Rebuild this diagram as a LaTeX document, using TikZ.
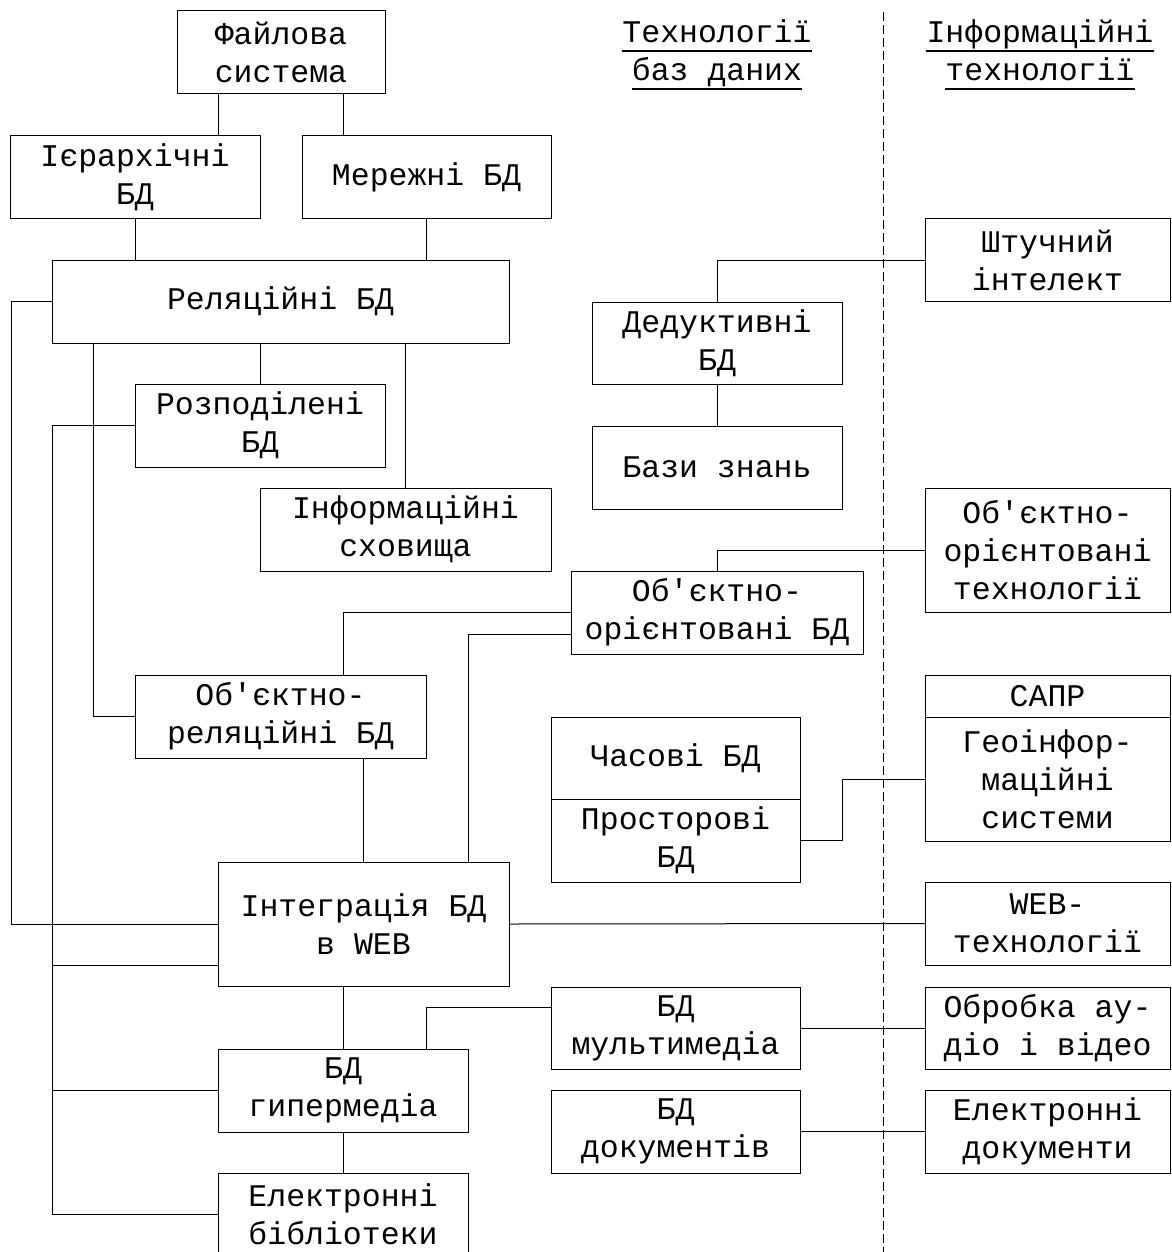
\documentclass[tikz,border=0pt]{standalone}
\usepackage{fontspec}
\setmonofont{Liberation Mono}

\begin{document}
\begin{tikzpicture}[x=1pt,y=-1pt,
  box/.style={draw, line width=1pt, align=center, inner sep=0pt,
    font=\ttfamily\fontsize{31.5}{38}\selectfont},
  sz/.style 2 args={minimum width=#1pt, minimum height=#2pt},
  head/.style={inner sep=0pt, anchor=base, font=\ttfamily\fontsize{31.5}{38}\selectfont},
  uline/.style={line width=1.6pt},
  link/.style={line width=1pt},
  sep/.style={line width=1pt, dash pattern=on 9pt off 4pt}]

\useasboundingbox (0,0) rectangle (1171,1252);
\clip (0,0) rectangle (1171,1252);

\coordinate (busA) at (11, 0);
\coordinate (busB) at (52, 0);
\coordinate (sepT) at (883, 12);
\coordinate (sepB) at (883, 1252);

% headers
\node[head] (h1) at (717, 43) {Технології};
\node[head] (h2) at (717, 81) {баз даних};
\node[head] (h3) at (1040, 43) {Інформаційні};
\node[head] (h4) at (1040, 81) {технології};

\draw[uline] ([yshift=-8pt]h1.base west) -- ([yshift=-8pt]h1.base east);
\draw[uline] ([yshift=-8pt]h2.base west) -- ([yshift=-8pt]h2.base east);
\draw[uline] ([yshift=-8pt]h3.base west) -- ([yshift=-8pt]h3.base east);
\draw[uline] ([yshift=-8pt]h4.base west) -- ([yshift=-8pt]h4.base east);

\draw[sep] (sepT) -- (sepB);

% left column
\node[box, sz={208}{83}] (fs) at (281, 52.5) {Файлова\\система};
\node[box, sz={250}{82}] (ier) at (135, 177) {Ієрархічні\\БД};
\node[box, sz={249}{82}] (mer) at (426.5, 177) {Мережні БД};
\node[box, sz={457}{83}] (rel) at (280.5, 301.5) {Реляційні БД};
\node[box, sz={250}{83}] (roz) at (260, 425.5) {Розподілені\\БД};
\node[box, sz={291}{83}] (inf) at (405.5, 529.5) {Інформаційні\\сховища};
\node[box, sz={291}{83}] (ordb) at (280.5, 716.5) {Об'єктно-\\реляційні БД};
\node[box, sz={291}{124}] (web) at (363.5, 924) {Інтеграція БД\\в WEB};
\node[box, sz={250}{83}] (hyp) at (343, 1090.5) {БД\\гипермедіа};
\node[box, sz={250}{83}] (lib) at (343, 1214.5) {Електронні\\бібліотеки};

% middle column
\node[box, sz={250}{82}] (ded) at (717, 343) {Дедуктивні\\БД};
\node[box, sz={250}{83}] (bz) at (717, 467.5) {Бази знань};
\node[box, sz={292}{83}] (oodb) at (717, 612.5) {Об'єктно-\\орієнтовані БД};
\node[box, sz={249}{82}] (tdb) at (675.5, 758) {Часові БД};
\node[box, sz={249}{83}] (sdb) at (675.5, 840.5) {Просторові\\БД};
\node[box, sz={249}{82}] (mm) at (675.5, 1028) {БД\\мультимедіа};
\node[box, sz={249}{83}] (doc) at (675.5, 1131.5) {БД\\документів};

% right column
\node[box, sz={245}{83}] (ai) at (1047.5, 260) {Штучний\\інтелект};
\node[box, sz={245}{124}] (oot) at (1047.5, 550) {Об'єктно-\\орієнтовані\\технології};
\node[box, sz={245}{42}] (sapr) at (1047.5, 696) {САПР};
\node[box, sz={245}{124}] (geo) at (1047.5, 779) {Геоінфор-\\маційні\\системи};
\node[box, sz={245}{83}] (webt) at (1047.5, 923.5) {WEB-\\технології};
\node[box, sz={245}{82}] (aud) at (1047.5, 1028) {Обробка ау-\\діо і відео};
\node[box, sz={245}{83}] (edoc) at (1047.5, 1131.5) {Електронні\\документи};

\coordinate (webL) at ([yshift=21pt]web.south west);

% links
\draw[link] ([xshift=42pt]fs.south west) -- ([xshift=42pt]fs.south west |- ier.north);
\draw[link] ([xshift=-42pt]fs.south east) -- ([xshift=-42pt]fs.south east |- mer.north);
\draw[link] (ier.south) -- (ier.south |- rel.north);
\draw[link] (mer.south) -- (mer.south |- rel.north);
\draw[link] (roz.north) -- (roz.north |- rel.south);
\draw[link] (inf.north) -- (inf.north |- rel.south);
\draw[link] ([xshift=42pt]rel.south west) |- (ordb.west);
\draw[link] (rel.west) -- (rel.west -| busA) |- (web.west);
\draw[link] (roz.west) -- (roz.west -| busB) |- (lib.west);
\draw[link] (busB |- webL) -- (webL);
\draw[link] (busB |- hyp.west) -- (hyp.west);
\draw[link] (ai.west) -| (ded.north);
\draw[link] (ded.south) -- (bz.north);
\draw[link] (oot.west) -| (oodb.north);
\draw[link] (oodb.west) -| ([xshift=-83pt]ordb.north east);
\draw[link] ([yshift=-21.5pt]oodb.west) -| ([xshift=-41pt]web.north east);
\draw[link] (web.north) -- (web.north |- ordb.south);
\draw[link] (sdb.east) -- ++(42pt,0) |- (geo.west);
\draw[link] (web.east) -- (webt.west);
\draw[link] (hyp.north) -- (hyp.north |- web.south);
\draw[link] ([yshift=21pt]mm.west) -| ([xshift=-42pt]hyp.north east);
\draw[link] (mm.east) -- (aud.west);
\draw[link] (doc.east) -- (edoc.west);
\draw[link] (hyp.south) -- (lib.north);

\end{tikzpicture}
\end{document}
